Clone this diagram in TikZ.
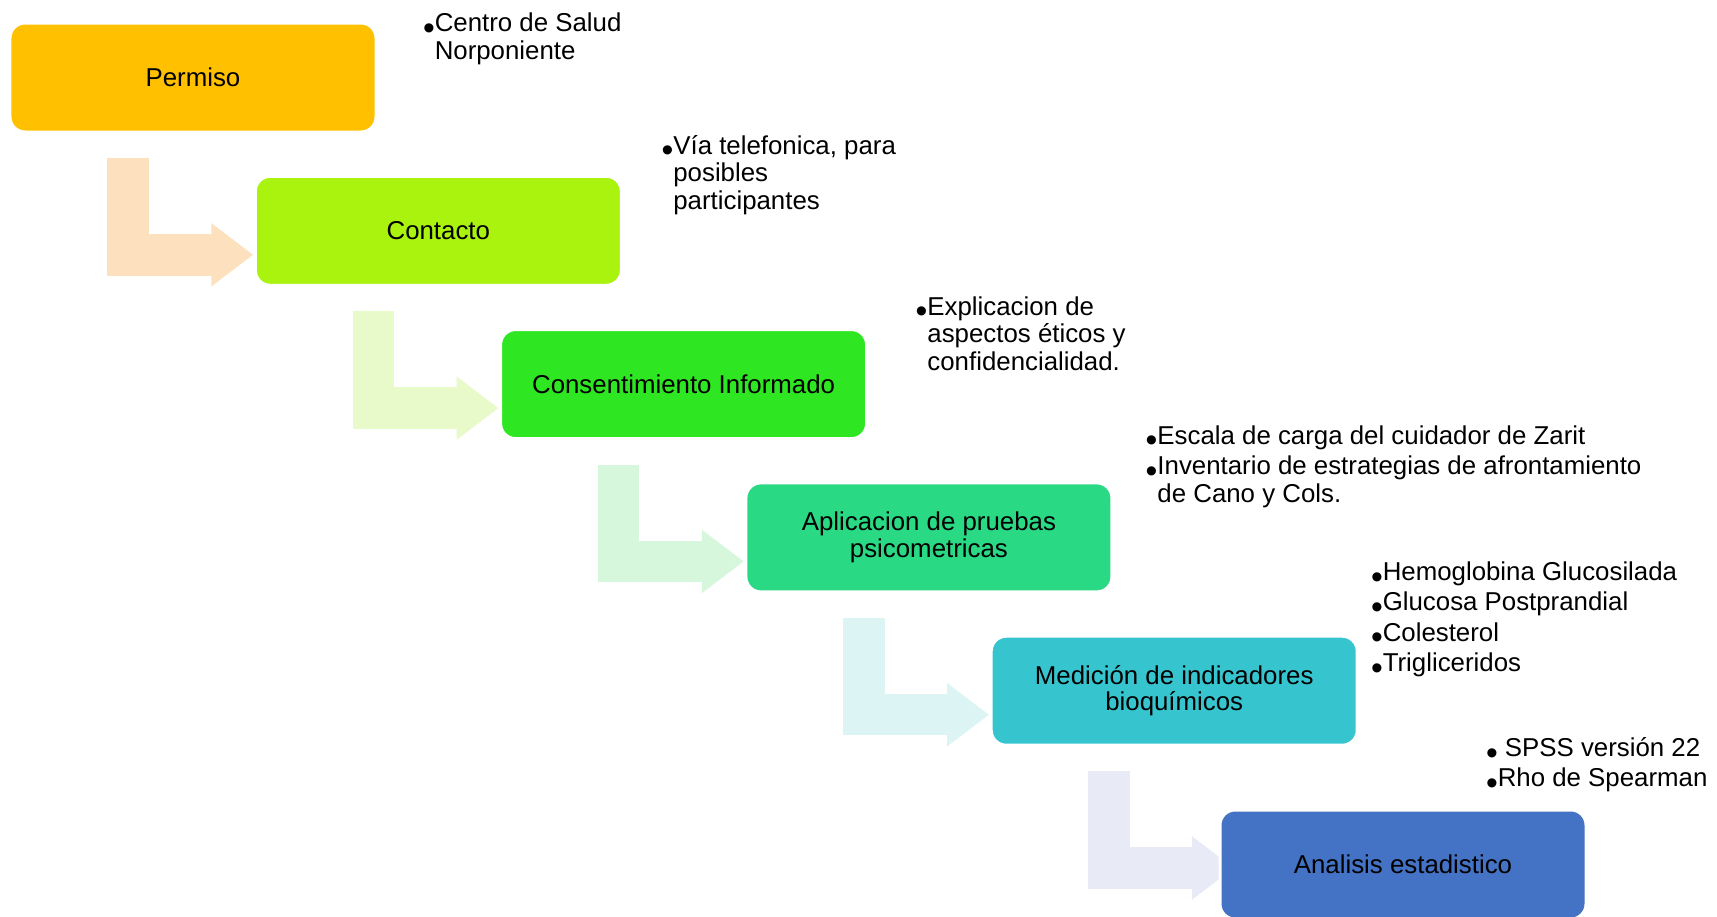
\documentclass[tikz,border=0pt]{standalone}
\usepackage{fontspec}
\setmainfont{Liberation Sans}
\usetikzlibrary{arrows.meta, backgrounds}

\definecolor{permisoC}{HTML}{FFC000}
\definecolor{contactoC}{HTML}{A9F30E}
\definecolor{consentC}{HTML}{2EE621}
\definecolor{pruebasC}{HTML}{29D983}
\definecolor{medicionC}{HTML}{36C5CF}
\definecolor{analisisC}{HTML}{4472C4}
\definecolor{flujoA}{HTML}{FDE0BE}
\definecolor{flujoB}{HTML}{E8F9CA}
\definecolor{flujoC}{HTML}{D6F7DC}
\definecolor{flujoD}{HTML}{DDF4F4}
\definecolor{flujoE}{HTML}{E8EAF5}

\newcommand{\bul}{\raisebox{-0.29em}{\scalebox{1.3}{•}}}

\tikzset{
  etapa/.style={draw=white, line width=0.6mm, rounded corners=3mm,
    minimum width=73.2mm, minimum height=21.8mm, inner sep=0pt, outer sep=0pt,
    align=center, font=\fontsize{14.7}{15}\selectfont},
  nota/.style={anchor=base west, inner sep=0pt, outer sep=0pt,
    font=\fontsize{14.7}{15.6}\selectfont},
  flujo/.style={line width=8.3mm, -{Triangle[width=12.1mm,length=8.4mm]}},
}

\begin{document}
\begin{tikzpicture}[x=0.2mm, y=-0.2mm]
  \useasboundingbox (0,0) rectangle (1717,916);

  % etapas
  \node[etapa, fill=permisoC] (permiso) at (193,77.5) {Permiso};
  \node[etapa, fill=contactoC] (contacto) at (438.3,230.8) {Contacto};
  \node[etapa, fill=consentC] (consent) at (683.6,384.1) {Consentimiento Informado};
  \node[etapa, fill=pruebasC] (pruebas) at (928.9,537.4) {Aplicacion de pruebas\\psicometricas};
  \node[etapa, fill=medicionC] (medicion) at (1174.2,690.7) {Medición de indicadores\\bioquímicos};
  \node[etapa, fill=analisisC] (analisis) at (1403,864.5) {Analisis estadistico};

  % notas
  \node[nota] (notaPermiso) at (423,31.7) {\begin{tabular}[t]{@{}l@{}l@{}}
    \bul & Centro de Salud\\ & Norponiente\end{tabular}};
  \node[nota] (notaContacto) at (661.6,154.5) {\begin{tabular}[t]{@{}l@{}l@{}}
    \bul & Vía telefonica, para\\ & posibles\\ & participantes\end{tabular}};
  \node[nota] (notaConsent) at (915.7,315.5) {\begin{tabular}[t]{@{}l@{}l@{}}
    \bul & Explicacion de\\ & aspectos éticos y\\ & confidencialidad.\end{tabular}};
  \node[nota] (notaPruebas) at (1145.7,444.5) {\begin{tabular}[t]{@{}l@{}l@{}}
    \bul & Escala de carga del cuidador de Zarit\\[1.7pt]
    \bul & Inventario de estrategias de afrontamiento\\ & de Cano y Cols.\end{tabular}};
  \node[nota] (notaMedicion) at (1371,580.5) {\begin{tabular}[t]{@{}l@{}l@{}}
    \bul & Hemoglobina Glucosilada\\[1.7pt]
    \bul & Glucosa Postprandial\\[1.7pt]
    \bul & Colesterol\\[1.7pt]
    \bul & Trigliceridos\end{tabular}};
  \node[nota] (notaAnalisis) at (1486,756.5) {\begin{tabular}[t]{@{}l@{}}
    \bul\ SPSS versión 22\\[1.7pt]
    \bul Rho de Spearman\end{tabular}};

  % flechas
  \begin{scope}[on background layer]
    \draw[flujo, flujoA] ([shift={(118,26)}]permiso.south west) |- ([shift={(-2,24)}]contacto.west);
    \draw[flujo, flujoB] ([shift={(118,26)}]contacto.south west) |- ([shift={(-2,24)}]consent.west);
    \draw[flujo, flujoC] ([shift={(118,26)}]consent.south west) |- ([shift={(-2,24)}]pruebas.west);
    \draw[flujo, flujoD] ([shift={(118,26)}]pruebas.south west) |- ([shift={(-2,24)}]medicion.west);
    \draw[flujo, flujoE] ([shift={(118,26)}]medicion.south west) |- ([shift={(14,3.5)}]analisis.west);
  \end{scope}
\end{tikzpicture}
\end{document}
